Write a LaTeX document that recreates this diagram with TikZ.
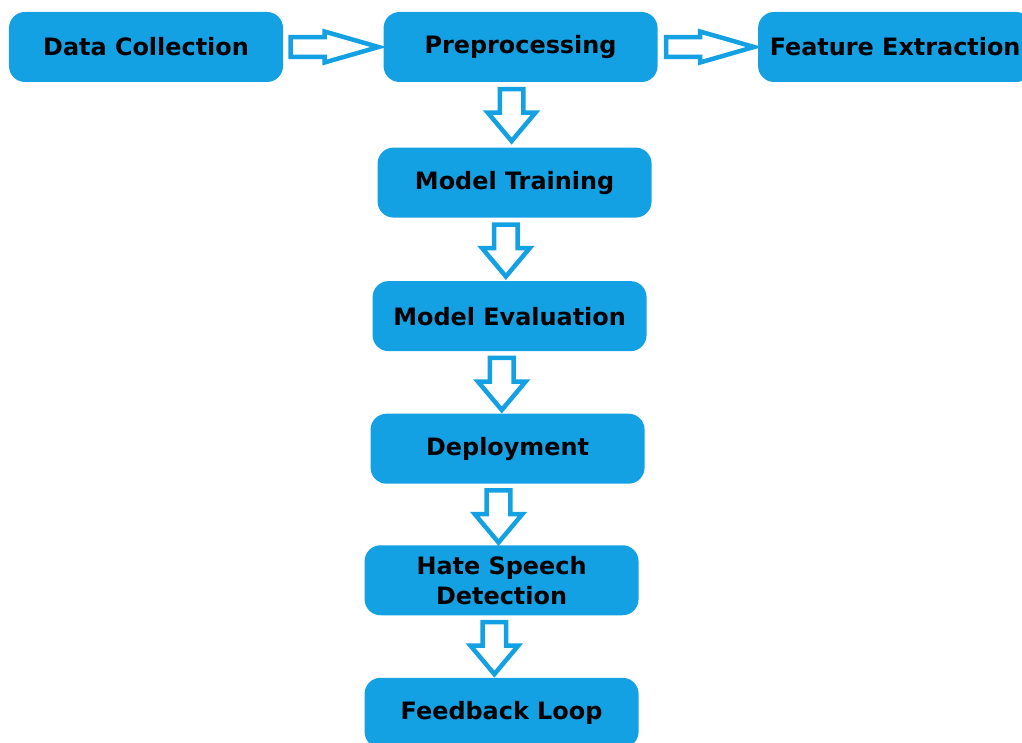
\documentclass[tikz,border=0pt]{standalone}
\usepackage{fontspec}
\setmainfont{DejaVu Sans}
\usepackage{tikz}
\usetikzlibrary{shapes.arrows, positioning}
\definecolor{stageblue}{RGB}{20,161,228}
\tikzset{
  stage/.style={rectangle, rounded corners=0.4cm, minimum width=6.85cm, minimum height=1.75cm, align=center, fill=stageblue, text=black, font=\bfseries\fontsize{17}{21.3}\selectfont},
  blockarrow/.style={single arrow, draw=stageblue, line width=3.2pt, fill=white, anchor=tail},
  rarrow/.style={blockarrow, inner xsep=0pt, inner ysep=0.19cm, minimum height=2.2cm, single arrow head extend=0.14cm, single arrow tip angle=32},
  darrow/.style={blockarrow, shape border rotate=270, inner ysep=0pt, inner xsep=0.24cm, minimum height=1.3cm, single arrow head extend=0.3cm, single arrow tip angle=80, xshift=-0.18cm}
}

\begin{document}
\begin{tikzpicture}[node distance=1.55cm]
    \useasboundingbox (0,0) rectangle (25.55,18.55);
    \node (collect) [stage] at (3.65,17.375) {Data Collection};
    \node (prep) [stage, right=2.5cm of collect] {Preprocessing};
    \node (feat) [stage, right=2.5cm of prep] {Feature Extraction};
    \node (train) [stage, below=1.625cm of prep, xshift=-0.15cm] {Model Training};
    \node (eval) [stage, below=1.575cm of train, xshift=-0.125cm] {Model Evaluation};
    \node (deploy) [stage, below=of eval, xshift=-0.05cm] {Deployment};
    \node (detect) [stage, below=1.525cm of deploy, xshift=-0.15cm] {Hate Speech\\Detection};
    \node (loop) [stage, below=of detect] {Feedback Loop};

    % block arrows along the top row
    \path (collect) -- node[rarrow, pos=0.05]{} (prep);
    \path (prep) -- node[rarrow, pos=0.06]{} (feat);

    % block arrows down the column
    \path (prep) -- node[darrow, pos=0.07]{} (train);
    \path (train) -- node[darrow, pos=0.07]{} (eval);
    \path (eval) -- node[darrow, pos=0.07]{} (deploy);
    \path (deploy) -- node[darrow, pos=0.07]{} (detect);
    \path (detect) -- node[darrow, pos=0.07]{} (loop);
  \end{tikzpicture}
\end{document}
